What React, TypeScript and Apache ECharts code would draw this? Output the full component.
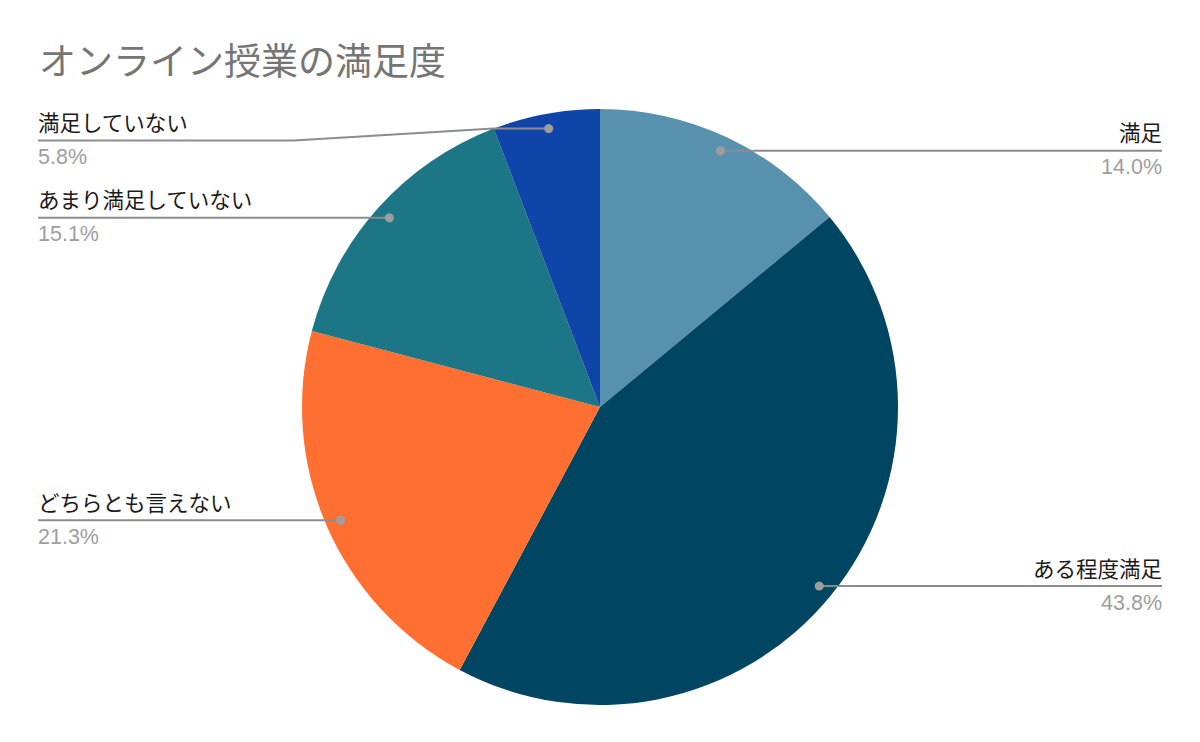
import React, { useEffect, useRef } from 'react';
import * as echarts from 'echarts';

// chart data
const categories = ['満足', 'ある程度満足', 'どちらとも言えない', 'あまり満足していない', '満足していない'];
const shares = [14.0, 43.8, 21.3, 15.1, 5.8];
const colors = ['#5891ad', '#004561', '#ff6f31', '#1c7685', '#0f45a8'];

// layout
const CX = 600;
const CY = 407;
const R = 298;
const LEFT_EDGE = 38;
const RIGHT_EDGE = 1162;
const FONT = '"Liberation Sans", "Noto Sans CJK JP", sans-serif';
// label moved a bit down to clear the title
const labelShift = [0, 0, 0, 0, 12];

const total = shares.reduce((a, b) => a + b, 0);

// dot inside each slice, on its mid angle
const dots = shares.map((v, i) => {
  const before = shares.slice(0, i).reduce((a, b) => a + b, 0);
  const mid = ((before + v / 2) / total) * Math.PI * 2;
  const r = R * 0.95;
  const x = CX + r * Math.sin(mid);
  const y = CY - r * Math.cos(mid);
  const left = x < CX;
  const pieX = CX + (left ? -1 : 1) * Math.sqrt(R * R - (y - CY) * (y - CY));
  return { x, y, left, pieX };
});

const App: React.FC = () => {
  const chartRef = useRef<HTMLDivElement>(null);

  useEffect(() => {
    if (!chartRef.current) return;
    const chart = echarts.init(chartRef.current, undefined, { renderer: 'svg' });

    const option = {
      animation: false,
      backgroundColor: '#ffffff',
      title: {
        text: 'オンライン授業の満足度',
        left: 34,
        top: 39,
        textStyle: { fontFamily: FONT, fontSize: 37, fontWeight: 'normal', color: '#757575' }
      },
      series: [{
        type: 'pie',
        center: [CX, CY],
        radius: [0, R],
        startAngle: 90,
        clockwise: true,
        data: categories.map((name, i) => ({
          name,
          value: shares[i],
          itemStyle: { color: colors[i] }
        })),
        label: {
          show: true,
          formatter: (p: any) => `{n|${p.name}}\n{p|${shares[p.dataIndex].toFixed(1)}%}`,
          rich: {
            n: { fontFamily: FONT, fontSize: 21.5, color: '#1a1a1a', lineHeight: 33 },
            p: { fontFamily: FONT, fontSize: 21.5, color: '#9e9e9e', lineHeight: 33 }
          }
        },
        labelLine: {
          show: true,
          lineStyle: { color: '#8c8c8c', width: 2 }
        },
        labelLayout: (params: any) => {
          const i = params.dataIndex;
          const d = dots[i];
          const y = d.y + labelShift[i];
          const edgeX = d.left ? LEFT_EDGE : RIGHT_EDGE;
          const bendX = d.left ? d.pieX - 200 : d.pieX + 200;
          return {
            x: edgeX,
            y,
            align: d.left ? 'left' : 'right',
            verticalAlign: 'middle',
            labelLinePoints: [[d.pieX, d.y], [d.pieX, d.y], [bendX, y], [edgeX, y]]
          };
        }
      }],
      graphic: [
        // segment from the dot to the slice edge, drawn over the slice
        ...dots.map((d) => ({
          type: 'line',
          shape: { x1: d.x, y1: d.y, x2: d.pieX, y2: d.y },
          style: { stroke: '#8c8c8c', lineWidth: 2 },
          z: 99
        })),
        ...dots.map((d) => ({
          type: 'circle',
          shape: { cx: d.x, cy: d.y, r: 4.5 },
          style: { fill: '#9e9e9e' },
          z: 100
        }))
      ]
    };

    chart.setOption(option);

    return () => {
      chart.dispose();
    };
  }, []);

  return (
    <div style={{ position: 'absolute', left: 0, top: 0 }}>
      <div ref={chartRef} style={{ width: 1200, height: 742 }} />
    </div>
  );
};

export default App;
